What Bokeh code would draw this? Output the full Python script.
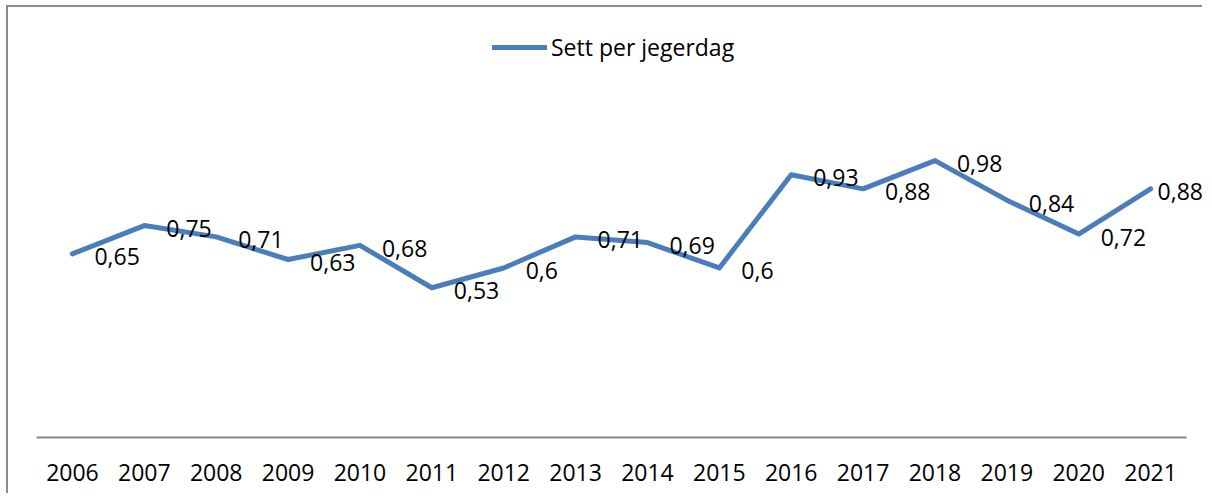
from bokeh.plotting import figure
from bokeh.models import Range1d, ColumnDataSource, LabelSet, FixedTicker
from bokeh.core.properties import value
from bokeh.embed import file_html
from bokeh.resources import INLINE

years = ["2006", "2007", "2008", "2009", "2010", "2011", "2012", "2013",
         "2014", "2015", "2016", "2017", "2018", "2019", "2020", "2021"]
sett_per_jegerdag = [0.65, 0.75, 0.71, 0.63, 0.68, 0.53, 0.60, 0.71,
                     0.69, 0.60, 0.93, 0.88, 0.98, 0.84, 0.72, 0.88]
series_name = "Sett per jegerdag"

FONT = "Open Sans"
LINE_COLOR = "#4a7ebb"
FRAME_COLOR = "#8a8a8a"

idx = list(range(len(years)))
labels = [f"{v:g}".replace(".", ",") for v in sett_per_jegerdag]
# label offsets: right of point; last one clamped by chart edge
x_offsets = [22] * len(years)
x_offsets[-1] = 7

src = ColumnDataSource(dict(x=idx, y=sett_per_jegerdag, t=labels, xo=x_offsets))

n = len(years)
p = figure(width=1196, height=488, output_backend="svg", toolbar_location=None,
           x_range=Range1d(-0.5, n - 0.25),
           y_range=Range1d(0, 1.49),
           y_axis_location=None,
           min_border_left=28, min_border_right=0,
           min_border_top=9, min_border_bottom=58)
p.background_fill_color = "white"
p.border_fill_color = "white"
p.outline_line_color = None
p.xgrid.grid_line_color = None
p.ygrid.grid_line_color = None
p.styles = {"border-top": f"2px solid {FRAME_COLOR}",
            "border-left": f"2px solid {FRAME_COLOR}",
            "margin-left": "6px", "margin-top": "5px"}

p.line("x", "y", source=src, line_color=LINE_COLOR, line_width=5,
       line_join="round", line_cap="round", legend_label=series_name)

lbl = LabelSet(x="x", y="y", text="t", source=src, x_offset="xo", y_offset=-3,
               text_font=value(FONT), text_font_size="23px", text_color="black",
               text_align="left", text_baseline="middle")
p.add_layout(lbl)

ax = p.xaxis[0]
ax.ticker = FixedTicker(ticks=idx)
ax.major_label_overrides = {i: y for i, y in zip(idx, years)}
ax.bounds = (-0.5, n - 0.5)
ax.axis_line_color = "#868686"
ax.axis_line_width = 2
ax.major_tick_line_color = None
ax.minor_tick_line_color = None
ax.major_tick_in = 0
ax.major_tick_out = 0
ax.major_label_standoff = 26
ax.major_label_text_font = FONT
ax.major_label_text_font_size = "23px"
ax.major_label_text_color = "black"

lg = p.legend[0]
lg.location = (456, 374)
lg.orientation = "horizontal"
lg.border_line_color = None
lg.background_fill_alpha = 0
lg.label_text_font = FONT
lg.label_text_font_size = "23px"
lg.label_text_color = "black"
lg.glyph_width = 55
lg.label_standoff = 4
lg.padding = 0
lg.margin = 0
lg.spacing = 0

open("out.html", "w").write(file_html(p, INLINE))
